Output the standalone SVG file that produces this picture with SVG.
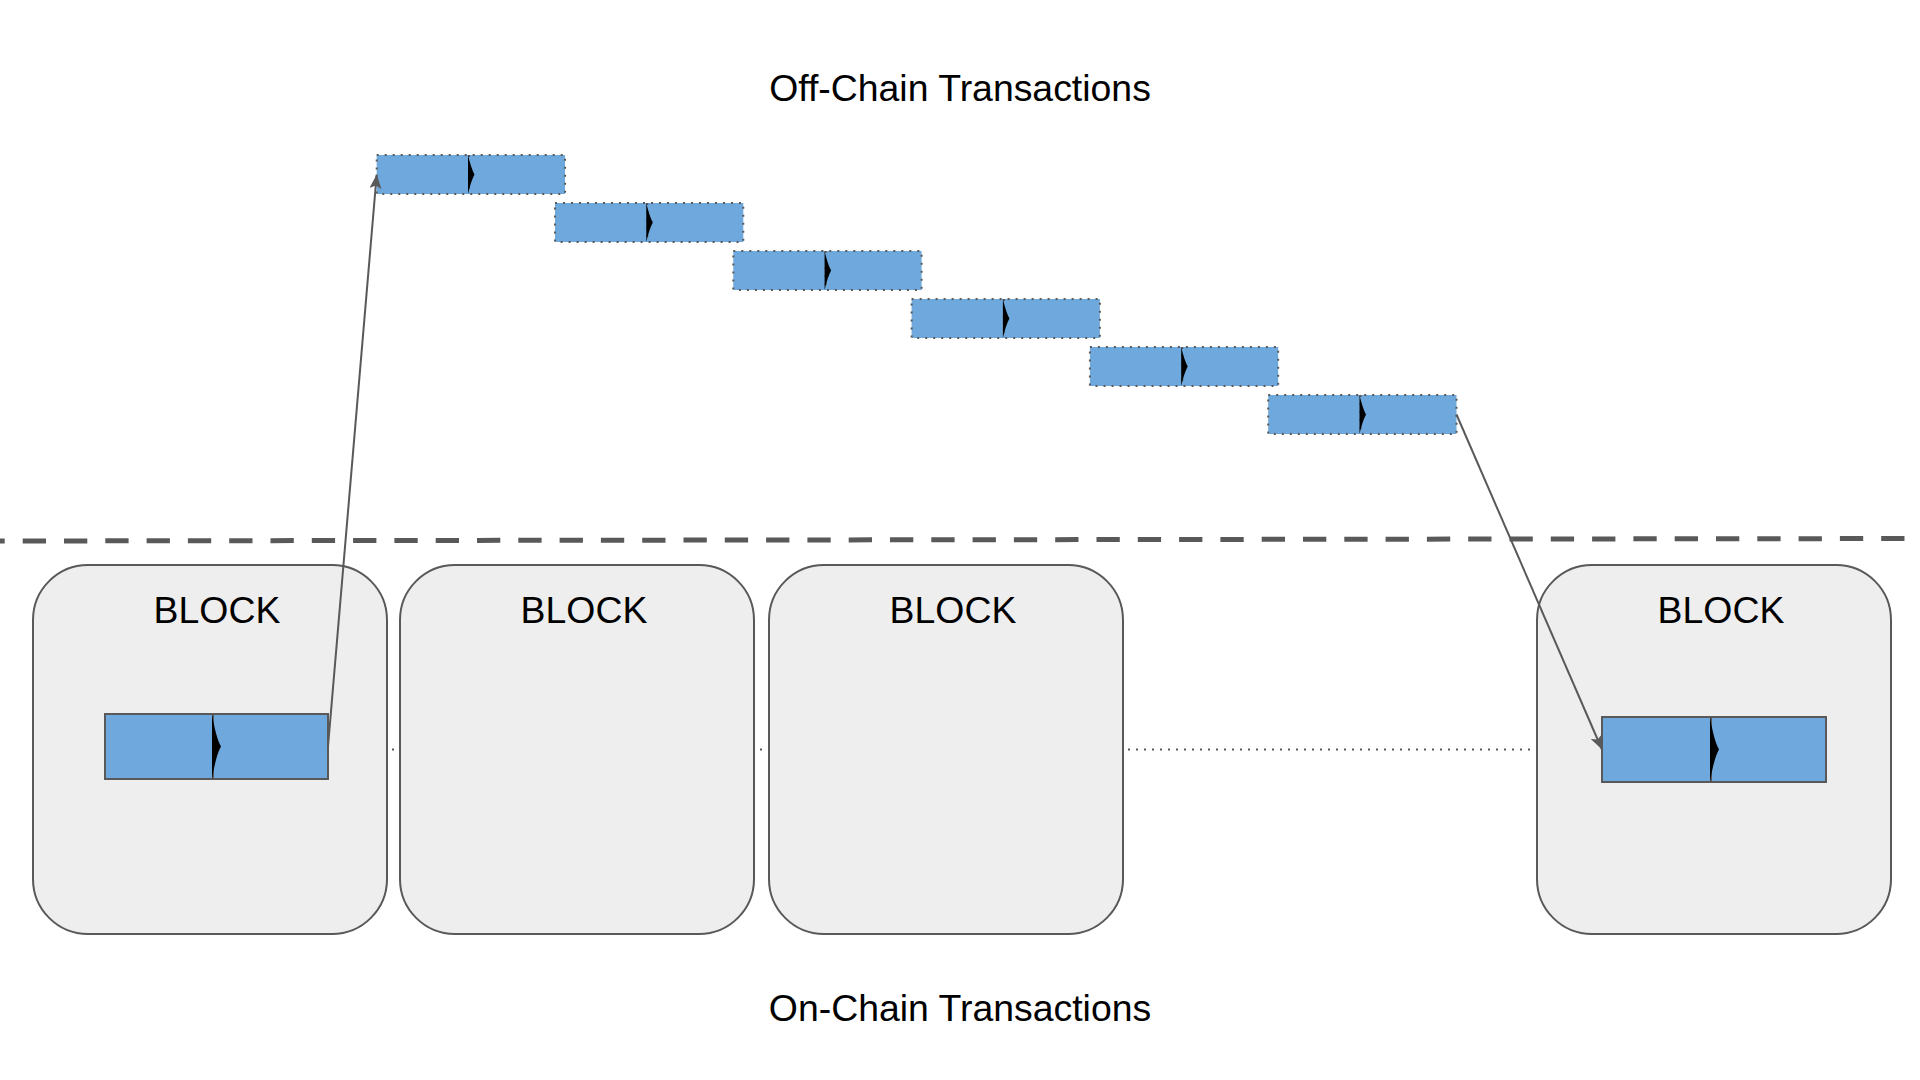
<svg xmlns="http://www.w3.org/2000/svg" width="1920" height="1080" viewBox="0 0 1920 1080">
<style>
.title{font-family:"Liberation Sans",Arial,sans-serif;font-size:37.4px;fill:#000;text-anchor:middle}
.block rect.bg{fill:#eeeeee;stroke:#595959;stroke-width:2}
.tx{fill:#6fa8dc;stroke:#595959;stroke-width:2}
.otx{fill:#6fa8dc;stroke:#595959;stroke-width:2;stroke-dasharray:2 6}
.div{stroke:#595959;stroke-width:2}
.odiv{stroke:#595959;stroke-width:2;stroke-dasharray:2 6}
.chev{fill:#000}
.conn{stroke:#595959;stroke-width:2;fill:none}
</style>
<defs>
<marker id="arr" markerUnits="userSpaceOnUse" markerWidth="16" markerHeight="12" refX="14" refY="6" orient="auto">
<path d="M0,0 L14,6 L0,12 L3,6 Z" fill="#595959"/>
</marker>
</defs>
<rect width="1920" height="1080" fill="#ffffff"/>
<text class="title" x="960" y="101">Off-Chain Transactions</text>
<text class="title" x="960" y="1021">On-Chain Transactions</text>
<line x1="0" y1="541" x2="1920" y2="538.5" stroke="#595959" stroke-width="5" stroke-dasharray="23.3 18" stroke-dashoffset="18.6"/>
<g id="chain-link">
<line x1="328" y1="749.5" x2="1602" y2="749.5" stroke="#595959" stroke-width="2" stroke-dasharray="2 6"/>
</g>
<g id="block1" class="block">
<rect class="bg" x="33" y="565" width="354" height="369" rx="55" ry="55"/>
<text class="title" x="217" y="623">BLOCK</text>
<rect class="tx" x="105" y="714" width="223" height="65"/>
<line class="div" x1="213" y1="714" x2="213" y2="779"/>
<path class="chev" d="M212,714 Q216,738 221,746.5 Q216,755 212,779 Z"/>
</g>
<g id="block2" class="block">
<rect class="bg" x="400" y="565" width="354" height="369" rx="55" ry="55"/>
<text class="title" x="584" y="623">BLOCK</text>
</g>
<g id="block3" class="block">
<rect class="bg" x="769" y="565" width="354" height="369" rx="55" ry="55"/>
<text class="title" x="953" y="623">BLOCK</text>
</g>
<g id="block4" class="block">
<rect class="bg" x="1537" y="565" width="354" height="369" rx="55" ry="55"/>
<text class="title" x="1721" y="623">BLOCK</text>
<rect class="tx" x="1602" y="717" width="224" height="65"/>
<line class="div" x1="1711" y1="717" x2="1711" y2="782"/>
<path class="chev" d="M1710,717 Q1714,741 1719,749.5 Q1714,758 1710,782 Z"/>
</g>
<g id="offchain1">
<rect class="otx" x="376.7" y="155" width="188.3" height="39"/>
<line class="odiv" x1="469" y1="155" x2="469" y2="194"/>
<path class="chev" d="M468,155 Q471,168 474.5,174.5 Q471,181 468,194 Z"/>
</g>
<g id="offchain2">
<rect class="otx" x="555" y="203" width="188.3" height="39"/>
<line class="odiv" x1="647.3" y1="203" x2="647.3" y2="242"/>
<path class="chev" d="M646.3,203 Q649.3,216 652.8,222.5 Q649.3,229 646.3,242 Z"/>
</g>
<g id="offchain3">
<rect class="otx" x="733.3" y="251" width="188.3" height="39"/>
<line class="odiv" x1="825.6" y1="251" x2="825.6" y2="290"/>
<path class="chev" d="M824.6,251 Q827.6,264 831.1,270.5 Q827.6,277 824.6,290 Z"/>
</g>
<g id="offchain4">
<rect class="otx" x="911.6" y="299" width="188.3" height="39"/>
<line class="odiv" x1="1003.9" y1="299" x2="1003.9" y2="338"/>
<path class="chev" d="M1002.9,299 Q1005.9,312 1009.4,318.5 Q1005.9,325 1002.9,338 Z"/>
</g>
<g id="offchain5">
<rect class="otx" x="1089.9" y="347" width="188.3" height="39"/>
<line class="odiv" x1="1182.2" y1="347" x2="1182.2" y2="386"/>
<path class="chev" d="M1181.2,347 Q1184.2,360 1187.7,366.5 Q1184.2,373 1181.2,386 Z"/>
</g>
<g id="offchain6">
<rect class="otx" x="1268.2" y="395" width="188.3" height="39"/>
<line class="odiv" x1="1360.5" y1="395" x2="1360.5" y2="434"/>
<path class="chev" d="M1359.5,395 Q1362.5,408 1366,414.5 Q1362.5,421 1359.5,434 Z"/>
</g>
<g id="connectors">
<line class="conn" x1="328" y1="746.5" x2="376.7" y2="174.5" marker-end="url(#arr)"/>
<line class="conn" x1="1456.5" y1="414.5" x2="1602" y2="749.5" marker-end="url(#arr)"/>
</g>
</svg>
